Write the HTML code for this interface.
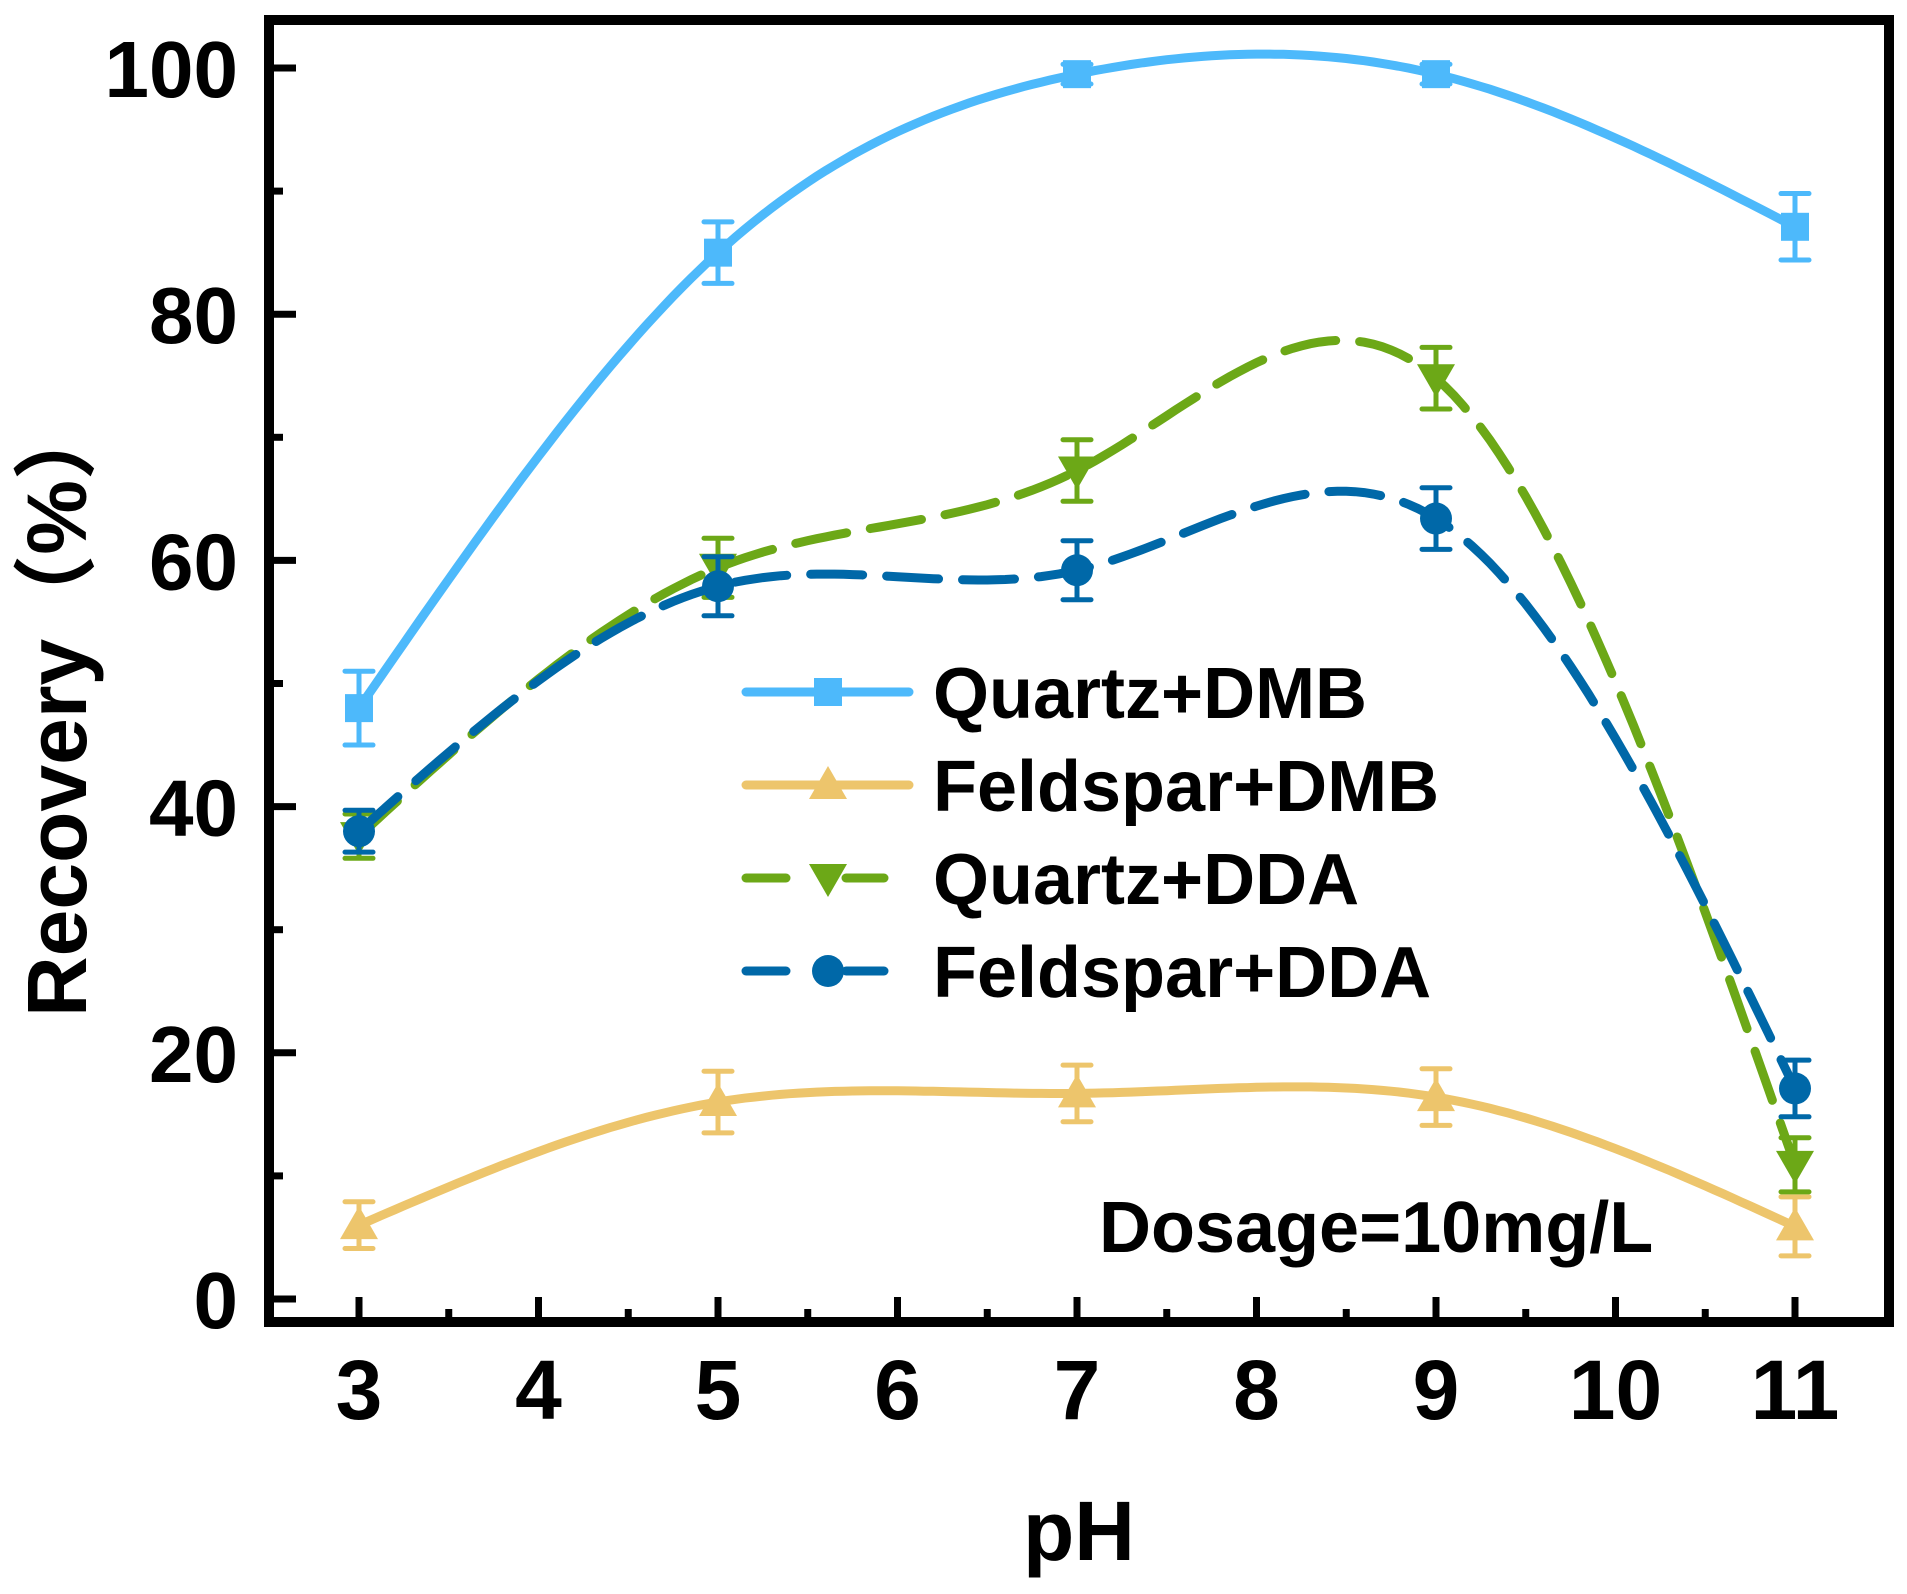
<!DOCTYPE html>
<html><head><meta charset="utf-8"><style>
html,body{margin:0;padding:0;background:#fff}
svg{display:block}
text{font-family:"Liberation Sans","Noto Sans CJK SC",sans-serif;font-weight:bold;fill:#000}
</style></head><body>
<svg id="chart" width="1907" height="1594" viewBox="0 0 1907 1594"></svg>
<script>
const categories = [3, 5, 7, 9, 11];
const quartzDMB = [48.0, 85.0, 99.5, 99.5, 87.1];
const quartzDMBErr = [3.0, 2.5, 0.8, 0.8, 2.7];
const feldsparDMB = [6.0, 16.0, 16.7, 16.4, 5.9];
const feldsparDMBErr = [1.9, 2.5, 2.3, 2.3, 2.4];
const quartzDDA = [37.6, 59.4, 67.3, 74.8, 10.9];
const quartzDDAErr = [1.8, 2.4, 2.5, 2.5, 2.2];
const feldsparDDA = [38.0, 57.9, 59.2, 63.4, 17.1];
const feldsparDDAErr = [1.7, 2.4, 2.4, 2.5, 2.3];
const xTicks = [3, 4, 5, 6, 7, 8, 9, 10, 11];
const yTicks = [0, 20, 40, 60, 80, 100];

const NS = 'http://www.w3.org/2000/svg';
const svg = document.getElementById('chart');
const X0 = 359, XU = 179.5, Y0 = 1299, YU = 12.31;
const xs = v => X0 + (v - 3) * XU;
const ys = v => Y0 - v * YU;
function el(tag, attrs, parent) {
  const e = document.createElementNS(NS, tag);
  for (const k in attrs) e.setAttribute(k, attrs[k]);
  (parent || svg).appendChild(e);
  return e;
}
function spline(xv, yv) {
  const n = xv.length, h = [], a = [], l = [1], mu = [0], z = [0], c = new Array(n).fill(0), b = [], d = [];
  for (let i = 0; i < n - 1; i++) h.push(xv[i + 1] - xv[i]);
  for (let i = 1; i < n - 1; i++) a[i] = 3 / h[i] * (yv[i + 1] - yv[i]) - 3 / h[i - 1] * (yv[i] - yv[i - 1]);
  for (let i = 1; i < n - 1; i++) {
    l[i] = 2 * (xv[i + 1] - xv[i - 1]) - h[i - 1] * mu[i - 1];
    mu[i] = h[i] / l[i];
    z[i] = (a[i] - h[i - 1] * z[i - 1]) / l[i];
  }
  for (let j = n - 2; j >= 0; j--) {
    c[j] = (j === 0 ? 0 : z[j] - mu[j] * c[j + 1]);
    b[j] = (yv[j + 1] - yv[j]) / h[j] - h[j] * (c[j + 1] + 2 * c[j]) / 3;
    d[j] = (c[j + 1] - c[j]) / (3 * h[j]);
  }
  let p = '';
  for (let j = 0; j < n - 1; j++) {
    for (let s = 0; s <= 40; s++) {
      const t = h[j] * s / 40, x = xv[j] + t;
      const y = yv[j] + b[j] * t + c[j] * t * t + d[j] * t * t * t;
      p += (p ? 'L' : 'M') + xs(x).toFixed(1) + ',' + ys(y).toFixed(1);
    }
  }
  return p;
}
function marker(kind, x, y, color, g) {
  let m;
  if (kind === 'square') m = el('rect', {x: x - 14, y: y - 14, width: 28, height: 28, fill: color}, g);
  else if (kind === 'up') m = el('polygon', {points: `${x},${y - 19} ${x - 19},${y + 14} ${x + 19},${y + 14}`, fill: color}, g);
  else if (kind === 'down') m = el('polygon', {points: `${x},${y + 19} ${x - 19},${y - 14} ${x + 19},${y - 14}`, fill: color}, g);
  else m = el('circle', {cx: x, cy: y, r: 16, fill: color}, g);
  return m;
}
const series = [
  {name: 'quartz-dmb', vals: quartzDMB, err: quartzDMBErr, color: '#4DB9FB', kind: 'square', dash: null},
  {name: 'feldspar-dmb', vals: feldsparDMB, err: feldsparDMBErr, color: '#EDC56C', kind: 'up', dash: null},
  {name: 'quartz-dda', vals: quartzDDA, err: quartzDDAErr, color: '#6CA817', kind: 'down', dash: '52 24'},
  {name: 'feldspar-dda', vals: feldsparDDA, err: feldsparDDAErr, color: '#0068A8', kind: 'circle', dash: '52 24'}
];
// axes frame + ticks
const axes = el('g', {});


yTicks.forEach(v => {
  const t = el('line', {x1: 269, x2: 296, y1: ys(v), y2: ys(v), stroke: '#000', 'stroke-width': 7}, axes);
  
  
  const lb = el('text', {x: 238, y: ys(v) + 29, 'text-anchor': 'end', 'font-size': 80}, axes);
  lb.textContent = v;
  
  
  if (v < 100) {
    const m = el('line', {x1: 269, x2: 283, y1: ys(v + 10), y2: ys(v + 10), stroke: '#000', 'stroke-width': 7}, axes);
    
    
  }
});
xTicks.forEach(v => {
  const t = el('line', {x1: xs(v), x2: xs(v), y1: 1322, y2: 1297, stroke: '#000', 'stroke-width': 7}, axes);
  
  
  const lb = el('text', {x: xs(v), y: 1419, 'text-anchor': 'middle', 'font-size': 84}, axes);
  lb.textContent = v;
  
  
  if (v < 11) {
    const m = el('line', {x1: xs(v + 0.5), x2: xs(v + 0.5), y1: 1322, y2: 1309, stroke: '#000', 'stroke-width': 7}, axes);
    
    
  }
});
const frame = el('rect', {x: 269, y: 20, width: 1620, height: 1302, fill: 'none', stroke: '#000', 'stroke-width': 10}, axes);


// series
series.forEach(s => {
  const g = el('g', {});
  
  
  const ln = el('path', {d: spline(categories, s.vals), fill: 'none', stroke: s.color, 'stroke-width': 9, 'stroke-linecap': 'round'}, g);
  if (s.dash) ln.setAttribute('stroke-dasharray', s.dash);
  
  
  categories.forEach((c, i) => {
    const x = xs(c), yt = ys(s.vals[i] + s.err[i]), yb = ys(s.vals[i] - s.err[i]);
    const eb = el('path', {d: `M${x},${yt}L${x},${yb}M${x - 14},${yt}L${x + 14},${yt}M${x - 14},${yb}L${x + 14},${yb}`, stroke: s.color, 'stroke-width': 5, fill: 'none', 'stroke-linecap': 'round'}, g);
    
    
    const m = marker(s.kind, x, ys(s.vals[i]), s.color, g);
    
    
  });
});
// legend
const legendLabels = ['Quartz+DMB', 'Feldspar+DMB', 'Quartz+DDA', 'Feldspar+DDA'];
const lg = el('g', {});


series.forEach((s, i) => {
  const y = 692 + i * 93;
  const e = el('g', {}, lg);
  
  
  if (s.dash) {
    el('line', {x1: 746, x2: 786, y1: y, y2: y, stroke: s.color, 'stroke-width': 9, 'stroke-linecap': 'round'}, e);
    el('line', {x1: 846, x2: 884, y1: y, y2: y, stroke: s.color, 'stroke-width': 9, 'stroke-linecap': 'round'}, e);
  } else {
    el('line', {x1: 746, x2: 909, y1: y, y2: y, stroke: s.color, 'stroke-width': 9, 'stroke-linecap': 'round'}, e);
  }
  marker(s.kind, 828, y, s.color, e);
  const t = el('text', {x: 933, y: y + 26, 'font-size': 72}, e);
  t.textContent = legendLabels[i];
});
const dose = el('text', {x: 1099, y: 1252, 'font-size': 72});
dose.textContent = 'Dosage=10mg/L';


const xt = el('text', {x: 1079, y: 1560, 'text-anchor': 'middle', 'font-size': 84});
xt.textContent = 'pH';


const yt = el('text', {x: 0, y: 0, 'font-size': 84, transform: 'translate(86,1017) rotate(-90)'});
yt.textContent = 'Recovery（%）';


</script>
</body></html>
